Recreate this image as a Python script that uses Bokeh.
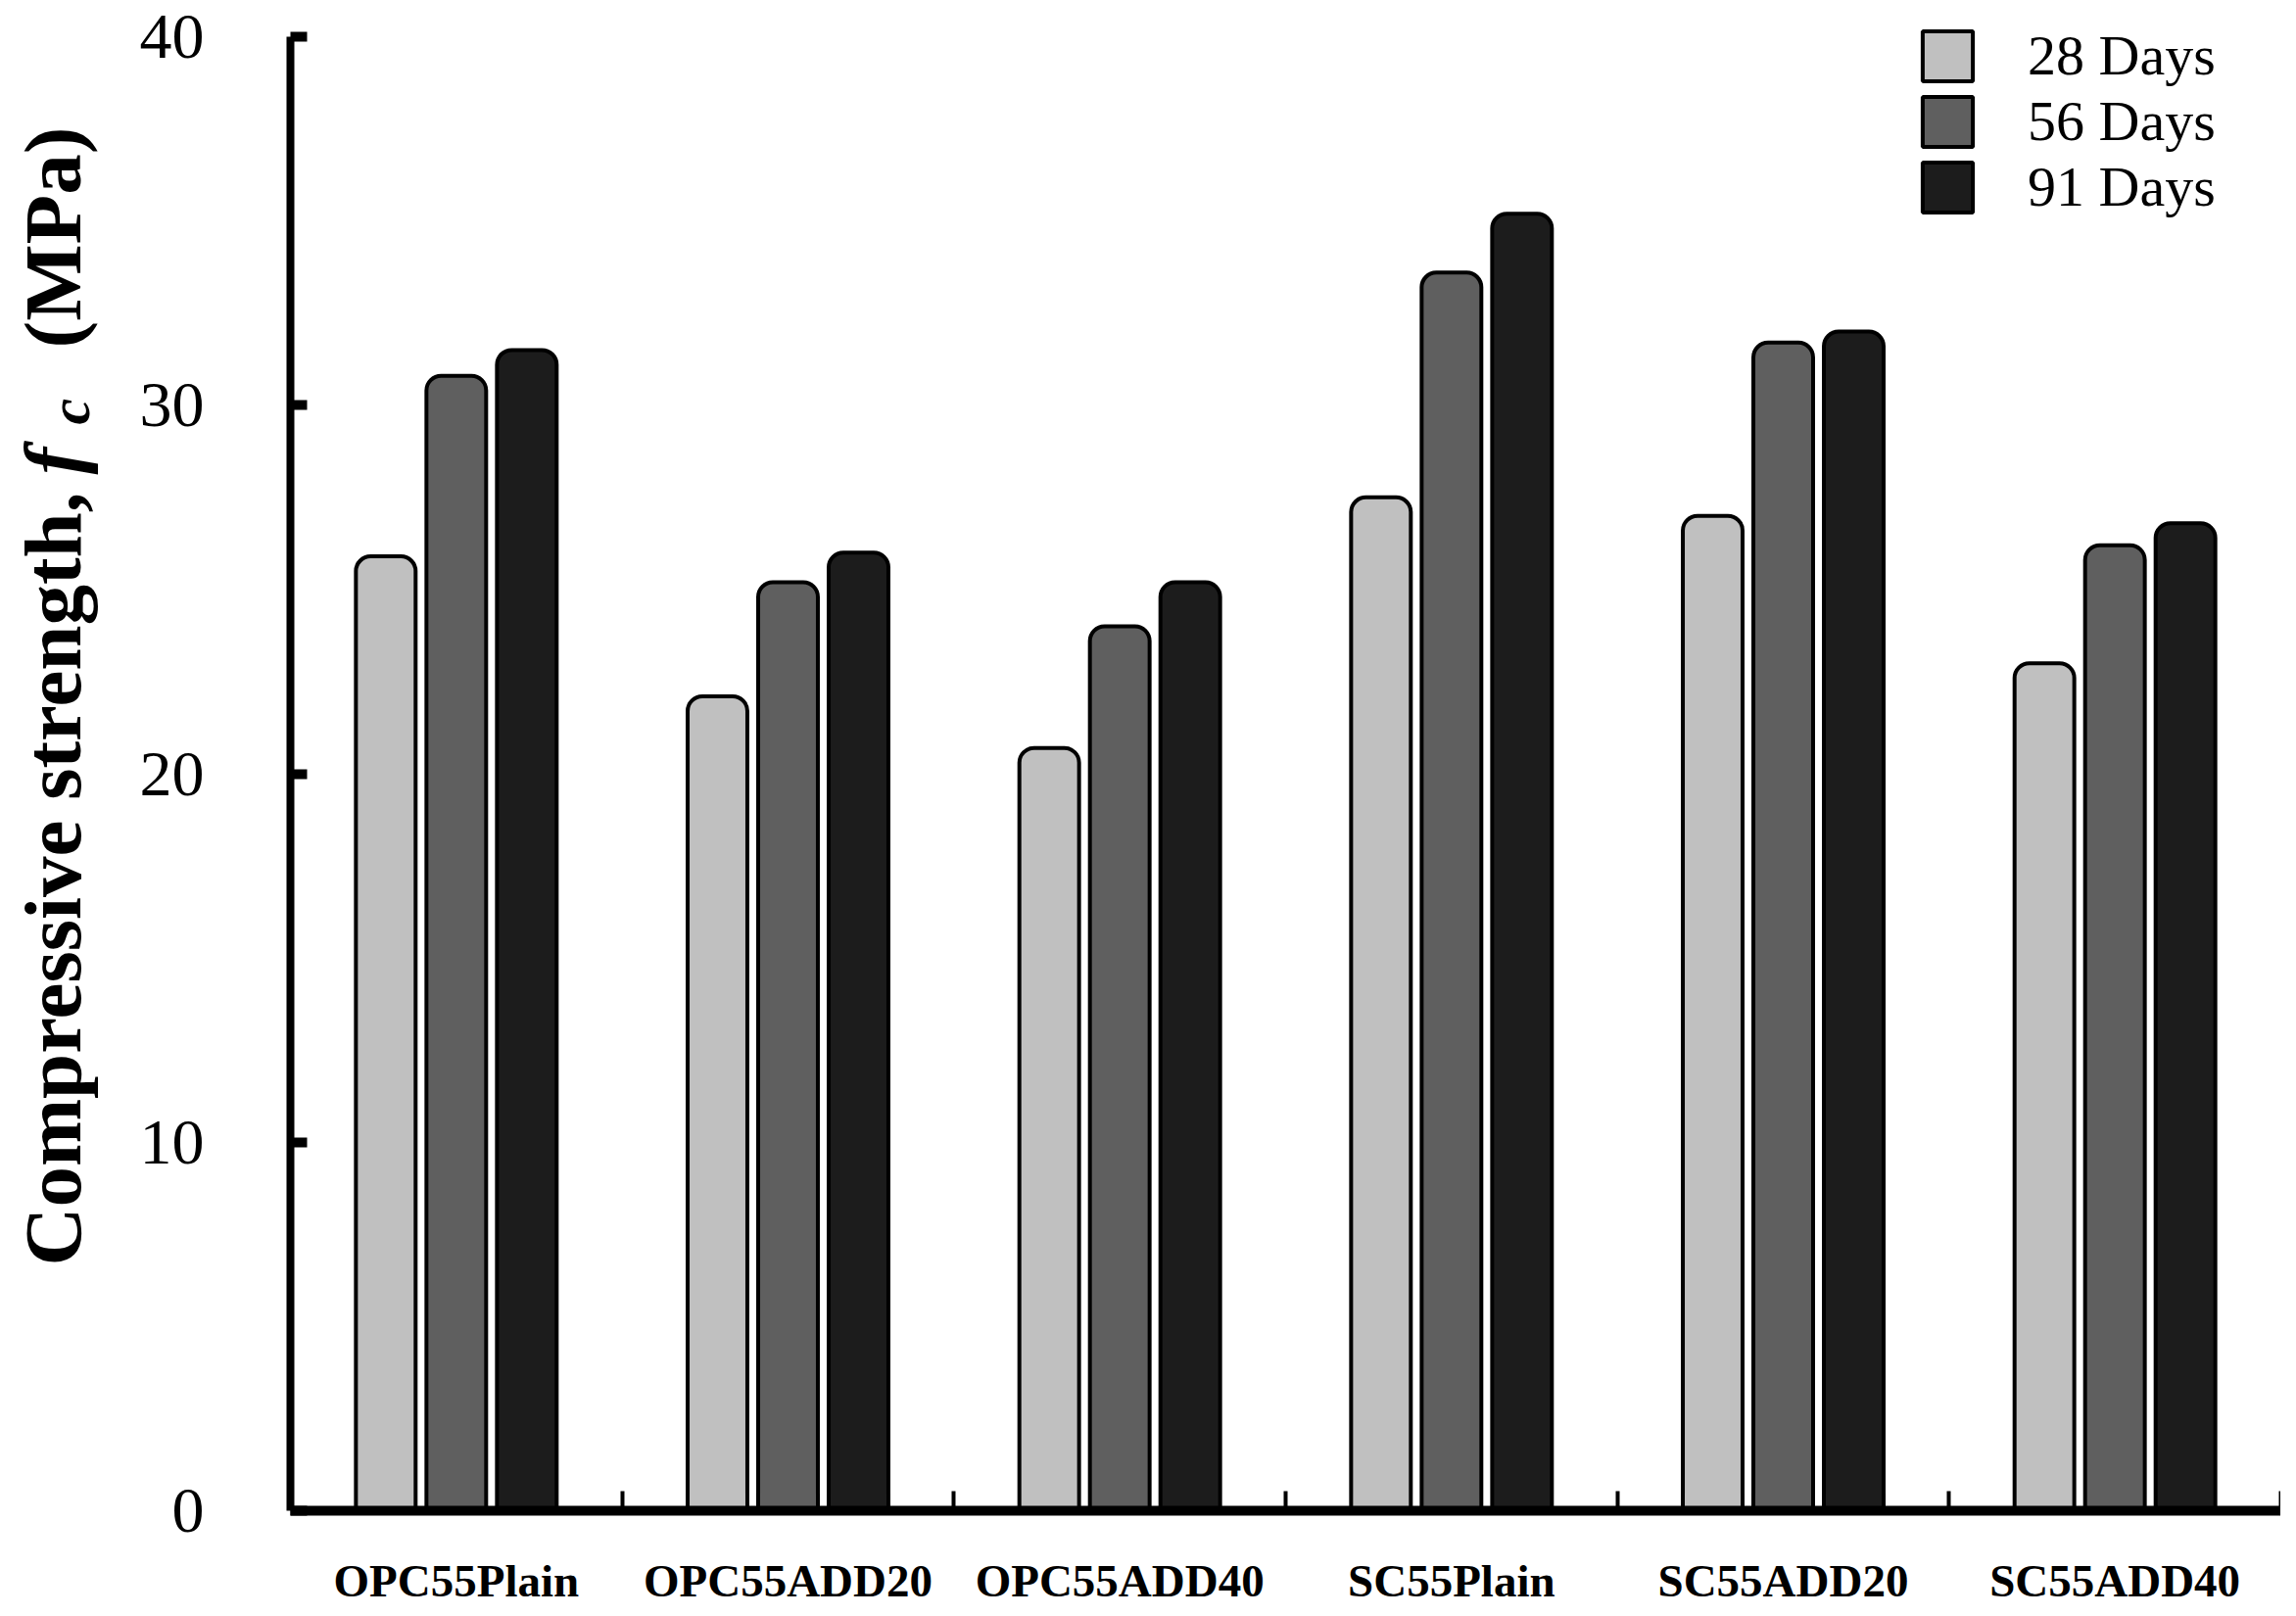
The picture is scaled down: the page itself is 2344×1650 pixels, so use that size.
import math
from bokeh.plotting import figure
from bokeh.layouts import row
from bokeh.models import (ColumnDataSource, Range1d, FixedTicker, Legend,
                          LegendItem)
from bokeh.transform import dodge
from bokeh.core.properties import value
from bokeh.embed import file_html
from bokeh.resources import INLINE

# ---- data -------------------------------------------------------------
categories = ["OPC55Plain", "OPC55ADD20", "OPC55ADD40",
              "SC55Plain", "SC55ADD20", "SC55ADD40"]
days_28 = [25.9, 22.1, 20.7, 27.5, 27.0, 23.0]
days_56 = [30.8, 25.2, 24.0, 33.6, 31.7, 26.2]
days_91 = [31.5, 26.0, 25.2, 35.2, 32.0, 26.8]
series_labels = ["28 Days", "56 Days", "91 Days"]
series_colors = ["#c0c0c0", "#5f5f5f", "#1c1c1c"]
y_ticks = [0, 10, 20, 30, 40]
y_axis_max = 40

TOTAL_H = 1634
TITLE_W = 120

# ---- y-axis title strip (mixed font styles) ---------------------------
t = figure(frame_width=TITLE_W, frame_height=TOTAL_H,
           x_range=Range1d(0, TITLE_W), y_range=Range1d(0, TOTAL_H),
           x_axis_location=None, y_axis_location=None,
           min_border=0, min_border_left=0, min_border_right=0,
           min_border_top=0, min_border_bottom=0,
           output_backend="svg", toolbar_location=None)
t.outline_line_color = None
t.background_fill_color = "white"
t.border_fill_color = "white"
t.xgrid.visible = False
t.ygrid.visible = False

title_parts = [
    ("Compressive strength,", "bold", "83px", 53, 352),
    ("f", "bold italic", "83px", 53, 1160),
    ("c", "bold italic", "60px", 70, 1211),
    ("(MPa)", "bold", "83px", 53, 1289),
]
for txt, style, size, xx, yy in title_parts:
    t.text(x=[xx], y=[yy], text=[txt], angle=math.pi / 2,
           text_font=value("Liberation Serif"), text_font_style=style,
           text_font_size=size, text_align="left",
           text_baseline="alphabetic", text_color="black")

# ---- main figure -----------------------------------------------------
p = figure(frame_width=2032, frame_height=1532,
           x_range=Range1d(0, len(categories)), y_range=Range1d(0, 40.72),
           output_backend="svg", toolbar_location=None,
           min_border_left=176, min_border_top=10,
           min_border_right=0, min_border_bottom=92)
p.outline_line_color = None
p.xgrid.visible = False
p.ygrid.visible = False
p.background_fill_color = "white"
p.border_fill_color = "white"

centers = [i + 0.5 for i in range(len(categories))]
src = ColumnDataSource(dict(x=centers, d28=days_28, d56=days_56, d91=days_91))

offsets = [-0.2126, 0.0, 0.2126]
renderers = []
for key, off, col in zip(["d28", "d56", "d91"], offsets, series_colors):
    r = p.vbar(x=dodge("x", off, range=p.x_range), top=key, bottom=0,
               width=0.18, source=src, fill_color=col, line_color="black",
               line_width=4, border_radius=(15, 15, 0, 0))
    renderers.append(r)

# ---- axes -------------------------------------------------------------
xa = p.xaxis[0]
xa.ticker = FixedTicker(ticks=centers,
                        minor_ticks=[i + 1 for i in range(len(categories))])
xa.major_label_overrides = {c: lab for c, lab in zip(centers, categories)}
xa.major_tick_in = 0
xa.major_tick_out = 0
xa.minor_tick_in = 20
xa.minor_tick_out = 0
xa.minor_tick_line_width = 4
xa.minor_tick_line_color = "black"
xa.axis_line_width = 10
xa.axis_line_color = "black"
xa.major_label_text_font = "Liberation Serif"
xa.major_label_text_font_style = "bold"
xa.major_label_text_font_size = "47px"
xa.major_label_text_color = "black"
xa.major_label_standoff = 45

ya = p.yaxis[0]
ya.ticker = FixedTicker(ticks=y_ticks, minor_ticks=[])
ya.bounds = (0, y_axis_max)
ya.major_tick_in = 17
ya.major_tick_out = 0
ya.major_tick_line_width = 10
ya.major_tick_line_color = "black"
ya.minor_tick_line_color = None
ya.axis_line_width = 8
ya.axis_line_color = "black"
ya.major_label_text_font = "Liberation Serif"
ya.major_label_text_font_size = "66px"
ya.major_label_text_color = "black"
ya.major_label_standoff = 88

# ---- legend -----------------------------------------------------------
legend = Legend(items=[LegendItem(label=l, renderers=[r])
                       for l, r in zip(series_labels, renderers)],
                location=(1660, 1318), orientation="vertical",
                glyph_width=64, glyph_height=64, label_standoff=50,
                label_text_font="Liberation Serif",
                label_text_font_size="58px", label_text_color="black",
                padding=0, spacing=-7, margin=0,
                border_line_alpha=0, background_fill_alpha=0)
p.add_layout(legend)

layout = row(t, p, spacing=0)
open("out.html", "w").write(file_html(layout, INLINE))
